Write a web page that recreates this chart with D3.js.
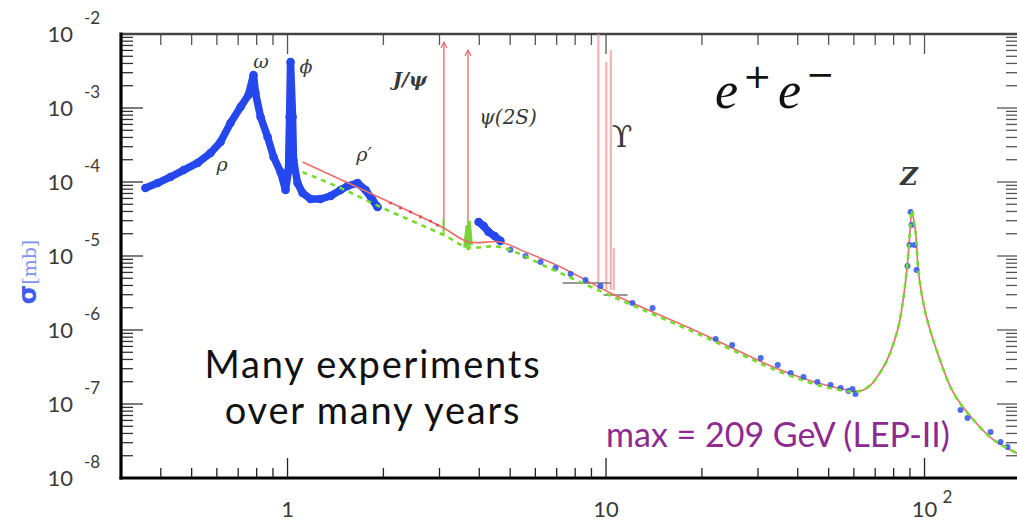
<!DOCTYPE html>
<html>
<head>
<meta charset="utf-8">
<script src="https://cdn.jsdelivr.net/npm/d3@7"></script>
<style>
  body { margin: 0; background: #fff; }
  svg { display: block; }
</style>
</head>
<body>
<svg id="chart" width="1017" height="523"></svg>
<script>
// sqrt(s) [GeV] and sigma [mb]

// low energy blue band (rho, omega, phi, rho')
let lowE = [0.358, 0.391, 0.429, 0.472, 0.522, 0.573, 0.616, 0.662, 0.712, 0.754, 0.782, 0.793, 0.823, 0.866, 0.904, 0.951, 0.986, 1.007, 1.015, 1.022, 1.037, 1.044, 1.075, 1.115, 1.181, 1.269, 1.365, 1.467, 1.543, 1.659, 1.758, 1.849, 1.917]
let lowSigma = [8.30e-5, 9.68e-5, 1.17e-4, 1.45e-4, 1.81e-4, 2.47e-4, 3.48e-4, 6.27e-4, 1.03e-3, 1.50e-3, 2.79e-3, 1.60e-3, 7.55e-4, 4.05e-4, 2.18e-4, 1.36e-4, 7.80e-5, 1.45e-4, 7.55e-4, 4.19e-3, 7.55e-4, 1.98e-4, 9.68e-5, 7.10e-5, 5.89e-5, 5.89e-5, 6.47e-5, 7.80e-5, 8.83e-5, 9.68e-5, 7.80e-5, 5.71e-5, 4.59e-5]

// blue band just above the charm threshold
let psiE = [3.98, 4.13, 4.28, 4.47, 4.66]
let psiSigma = [2.88e-5, 2.54e-5, 2.11e-5, 1.86e-5, 1.60e-5]

// scattered blue points at higher energy
let highE = [5.01, 5.59, 6.23, 6.94, 7.74, 8.62, 9.61, 12.1, 14.0, 22.1, 24.9, 30.6, 34.6, 38.0, 41.7, 46.1, 50.7, 54.5, 57.7, 59.4, 60.7, 90.4, 91.0, 89.7, 93.0, 88.4, 94.4, 129.7, 136.5, 161.2, 173.2, 182.2]
let highSigma = [1.21e-5, 1.0e-5, 8.30e-6, 6.89e-6, 5.72e-6, 4.75e-6, 3.94e-6, 2.32e-6, 1.98e-6, 7.55e-7, 6.26e-7, 4.19e-7, 3.37e-7, 2.62e-7, 2.32e-7, 1.98e-7, 1.81e-7, 1.64e-7, 1.50e-7, 1.60e-7, 1.37e-7, 3.94e-5, 2.62e-5, 1.41e-5, 1.41e-5, 7.33e-6, 6.47e-6, 8.30e-8, 6.47e-8, 4.19e-8, 3.06e-8, 2.62e-8]

// red curve (continuum + Z)
let redE = [1.115, 1.959, 3.09, 3.70, 4.66, 5.39, 7.20, 10.33, 19.8, 35.3, 51.8, 64.3, 74.3, 82.3, 85.9, 88.4, 90.4, 91.0, 93.7, 95.8, 100.7, 109.9, 123.3, 142.5, 164.7, 200.2]
let redSigma = [1.86e-4, 6.08e-5, 2.39e-5, 1.55e-5, 1.55e-5, 1.21e-5, 7.10e-6, 3.16e-6, 9.10e-7, 2.88e-7, 1.70e-7, 1.55e-7, 3.16e-7, 1.0e-6, 2.79e-6, 8.03e-6, 2.79e-5, 4.19e-5, 2.11e-5, 5.89e-6, 1.70e-6, 4.89e-7, 1.41e-7, 6.08e-8, 3.27e-8, 2.05e-8]

// green dashed curve (below the red one at low energy)
let greenE = [1.115, 1.467, 1.959, 3.09, 3.67, 4.66, 6.84, 10.56, 19.8, 35.3, 51.8, 64.3, 74.3, 82.3, 85.9, 88.4, 90.4, 91.0, 93.7, 95.8, 100.7, 109.9, 123.3, 142.5, 164.7, 200.2]
let greenSigma = [1.36e-4, 8.30e-5, 4.59e-5, 1.92e-5, 1.32e-5, 1.32e-5, 6.47e-6, 2.79e-6, 8.55e-7, 2.70e-7, 1.60e-7, 1.55e-7, 3.16e-7, 1.0e-6, 2.79e-6, 8.03e-6, 2.79e-5, 4.19e-5, 2.11e-5, 5.89e-6, 1.70e-6, 4.89e-7, 1.41e-7, 6.08e-8, 3.27e-8, 2.05e-8]

// small red data points between 2 and 3 GeV
let redDotE = [2.105, 2.264, 2.433, 2.616, 2.812, 2.958]
let redDotSigma = [5.20e-5, 4.46e-5, 3.94e-5, 3.37e-5, 2.97e-5, 2.62e-5]

// narrow resonances: J/psi, psi(2S) (arrows) and Upsilons
let spikeE = [3.097, 3.686]
let spikeBase = [2.39e-5, 1.55e-5]
let spikeTop = [7.8e-3, 6.08e-3]
let upsE = [9.46, 10.02, 10.355, 10.58]
let upsBase = [3.48e-6, 3.48e-6, 3.48e-6, 3.48e-6]
let upsTop = [1e-2, 4.19e-3, 6.08e-3, 1.28e-5]

// grey threshold marks near the Upsilons
let barE0 = [7.30, 9.82]
let barE1 = [10.33, 11.68]
let barSigma = [4.32e-6, 2.97e-6]

// y tick labels (exponents) and x tick labels
let yExp = [-2, -3, -4, -5, -6, -7, -8]
let xMajor = [1, 10, 100]

let svg = d3.select('#chart')

let x = d3.scaleLog().domain([0.3, 200]).range([121, 1020.4])
let y = d3.scaleLog().domain([1e-8, 1e-2]).range([478, 34])

let zip = (a, b) => a.map((d, i) => [d, b[i]])
let line = d3.line().x(d => x(d[0])).y(d => y(d[1]))
let smooth = d3.line().x(d => x(d[0])).y(d => y(d[1])).curve(d3.curveCatmullRom.alpha(0.5))

let isMajor = v => Math.abs(Math.log10(v) - Math.round(Math.log10(v))) < 1e-6

// ---- ticks
let xt = x.ticks()
let yt = y.ticks()

let ticks = svg.append('g')
// bottom
ticks.selectAll('.xb').data(xt).enter().append('line')
  .attr('x1', d => x(d)).attr('x2', d => x(d))
  .attr('y1', 478).attr('y2', d => isMajor(d) ? 458 : 468)
  .attr('stroke', '#222').attr('stroke-width', 1.3)
// top
ticks.selectAll('.xt').data(xt).enter().append('line')
  .attr('x1', d => x(d)).attr('x2', d => x(d))
  .attr('y1', 34).attr('y2', d => isMajor(d) ? 54 : 45)
  .attr('stroke', '#555').attr('stroke-width', 1.3)
// left
ticks.selectAll('.yl').data(yt).enter().append('line')
  .attr('y1', d => y(d)).attr('y2', d => y(d))
  .attr('x1', 121).attr('x2', d => isMajor(d) ? 143 : 133)
  .attr('stroke', '#333').attr('stroke-width', 1.3)
// right
ticks.selectAll('.yr').data(yt).enter().append('line')
  .attr('y1', d => y(d)).attr('y2', d => y(d))
  .attr('x1', 1020).attr('x2', d => isMajor(d) ? 997 : 1006)
  .attr('stroke', '#555').attr('stroke-width', 1.3)

// ---- frame
svg.append('line').attr('x1', 121).attr('x2', 1020).attr('y1', 34).attr('y2', 34)
  .attr('stroke', '#444').attr('stroke-width', 2.5)
svg.append('line').attr('x1', 1020).attr('x2', 1020).attr('y1', 34).attr('y2', 478)
  .attr('stroke', '#444').attr('stroke-width', 2.5)
svg.append('line').attr('x1', 121).attr('x2', 121).attr('y1', 32.5).attr('y2', 479.5)
  .attr('stroke', '#000').attr('stroke-width', 3.2)
svg.append('line').attr('x1', 119.5).attr('x2', 1020).attr('y1', 478).attr('y2', 478)
  .attr('stroke', '#000').attr('stroke-width', 3.2)

// ---- tick labels
let lab = svg.append('g').attr('font-family', 'Lato, sans-serif').attr('fill', '#3a3a3a')
yExp.forEach(e => {
  let yy = y(Math.pow(10, e))
  lab.append('text').attr('x', 73).attr('y', yy + 8).attr('text-anchor', 'end')
    .attr('font-size', 22).text('10')
  lab.append('text').attr('x', 84).attr('y', yy - 10).attr('font-size', 17).text(e)
})
xMajor.forEach(v => {
  let xx = x(v)
  if (v === 100) {
    lab.append('text').attr('x', xx).attr('y', 517).attr('text-anchor', 'middle')
      .attr('font-size', 22).text('10')
    lab.append('text').attr('x', xx + 18).attr('y', 503).attr('font-size', 17).text('2')
  } else {
    lab.append('text').attr('x', xx).attr('y', 517).attr('text-anchor', 'middle')
      .attr('font-size', 22).text(v)
  }
})

// y axis title
let yt2 = svg.append('text').attr('transform', 'translate(36,272) rotate(-90)')
  .attr('text-anchor', 'middle').attr('fill', '#3d5cf0')
yt2.append('tspan').attr('font-family', 'DejaVu Sans, sans-serif').attr('font-weight', 'bold')
  .attr('font-size', 25).text('σ')
yt2.append('tspan').attr('font-family', 'DejaVu Serif, serif').attr('font-size', 19)
  .attr('fill', '#7d92f4').text('[mb]')

// ---- curves
let plot = svg.append('g')

// Upsilon lines (light pink)
upsE.forEach((e, i) => {
  plot.append('line').attr('x1', x(e)).attr('x2', x(e))
    .attr('y1', y(upsBase[i])).attr('y2', y(upsTop[i]))
    .attr('stroke', '#f19a9a').attr('stroke-width', 2.2).attr('opacity', 0.75)
})

// grey bars
barSigma.forEach((s, i) => {
  plot.append('line').attr('x1', x(barE0[i])).attr('x2', x(barE1[i]))
    .attr('y1', y(s)).attr('y2', y(s))
    .attr('stroke', '#777').attr('stroke-width', 1.5)
})

// J/psi and psi(2S) arrows
spikeE.forEach((e, i) => {
  let xx = x(e), top = y(spikeTop[i])
  plot.append('line').attr('x1', xx).attr('x2', xx)
    .attr('y1', y(spikeBase[i])).attr('y2', top)
    .attr('stroke', '#e46a6a').attr('stroke-width', 1.3)
  plot.append('path').attr('d', `M${xx - 3},${top + 6}L${xx},${top}L${xx + 3},${top + 6}`)
    .attr('fill', 'none').attr('stroke', '#e46a6a').attr('stroke-width', 1.2)
})

// green blips at the charmonium peaks
plot.append('line').attr('x1', x(3.09)).attr('x2', x(3.09))
  .attr('y1', y(1.92e-5)).attr('y2', y(3.2e-5))
  .attr('stroke', '#7ad23a').attr('stroke-width', 2)
plot.append('path').attr('d', line([[3.6, 1.3e-5], [3.66, 2.6e-5], [3.69, 1.2e-5], [3.72, 3.0e-5], [3.78, 1.4e-5]]))
  .attr('fill', 'none').attr('stroke', '#7ad23a').attr('stroke-width', 3)

// blue low energy band
let lowData = zip(lowE, lowSigma)
let psiData = zip(psiE, psiSigma)
;[lowData, psiData].forEach(data => {
  plot.append('path').attr('d', line(data))
    .attr('fill', 'none').attr('stroke', '#2447ee').attr('stroke-width', 7.5)
    .attr('stroke-linejoin', 'round').attr('stroke-linecap', 'round')
  plot.selectAll(null).data(data).enter().append('circle')
    .attr('cx', d => x(d[0])).attr('cy', d => y(d[1])).attr('r', 4.3)
    .attr('fill', '#2447ee')
})

// red continuum + Z
plot.append('path').attr('d', smooth(zip(redE, redSigma)))
  .attr('fill', 'none').attr('stroke', '#ec6b6b').attr('stroke-width', 1.6)

// red data dots
plot.selectAll('.rdot').data(zip(redDotE, redDotSigma)).enter().append('circle')
  .attr('cx', d => x(d[0])).attr('cy', d => y(d[1])).attr('r', 1.6)
  .attr('fill', '#e05050')

// blue high energy points
plot.selectAll('.hdot').data(zip(highE, highSigma)).enter().append('circle')
  .attr('cx', d => x(d[0])).attr('cy', d => y(d[1])).attr('r', 3)
  .attr('fill', '#2f52ee').attr('opacity', 0.85)

// green dashed
plot.append('path').attr('d', smooth(zip(greenE, greenSigma)))
  .attr('fill', 'none').attr('stroke', '#74dc2c').attr('stroke-width', 2.6)
  .attr('stroke-dasharray', '5,5')

// ---- annotations
let ann = svg.append('g').attr('font-family', 'DejaVu Serif, serif').attr('fill', '#383838')
  .attr('font-style', 'italic').attr('text-anchor', 'middle')
ann.append('text').attr('x', 261).attr('y', 68).attr('font-size', 19).text('ω')
ann.append('text').attr('x', 306).attr('y', 73).attr('font-size', 19).text('ϕ')
ann.append('text').attr('x', 222).attr('y', 171).attr('font-size', 19).text('ρ')
ann.append('text').attr('x', 364).attr('y', 161).attr('font-size', 19).text('ρ′')
ann.append('text').attr('x', 410).attr('y', 86).attr('font-size', 19).attr('font-weight', 'bold').text('J/ψ')
ann.append('text').attr('x', 508).attr('y', 124).attr('font-size', 20).text('ψ(2S)')
ann.append('text').attr('x', 622).attr('y', 147).attr('font-size', 30).attr('font-style', 'normal').text('ϒ')
ann.append('text').attr('x', 909).attr('y', 185).attr('font-size', 24).attr('font-weight', 'bold').text('Z')

// e+ e-
let ee = svg.append('g').attr('fill', '#111')
ee.append('text').attr('x', 715).attr('y', 108).attr('font-family', 'Liberation Serif, serif')
  .attr('font-style', 'italic').attr('font-size', 52).text('e')
ee.append('text').attr('x', 743).attr('y', 88).attr('font-family', 'DejaVu Sans, sans-serif')
  .attr('font-size', 34).text('+')
ee.append('text').attr('x', 778).attr('y', 108).attr('font-family', 'Liberation Serif, serif')
  .attr('font-style', 'italic').attr('font-size', 52).text('e')
ee.append('text').attr('x', 806).attr('y', 86).attr('font-family', 'DejaVu Sans, sans-serif')
  .attr('font-size', 34).text('−')

let note = svg.append('g').attr('font-family', 'Lato, sans-serif').attr('text-anchor', 'middle')
  .attr('font-size', 38).attr('letter-spacing', 1.8).attr('fill', '#111')
note.append('text').attr('x', 373).attr('y', 378).text('Many experiments')
note.append('text').attr('x', 373).attr('y', 424).text('over many years')
svg.append('text').attr('x', 778).attr('y', 447).attr('text-anchor', 'middle')
  .attr('font-family', 'Lato, sans-serif').attr('font-size', 34).attr('fill', '#8e2a90')
  .text('max = 209 GeV (LEP-II)')
</script>
</body>
</html>
